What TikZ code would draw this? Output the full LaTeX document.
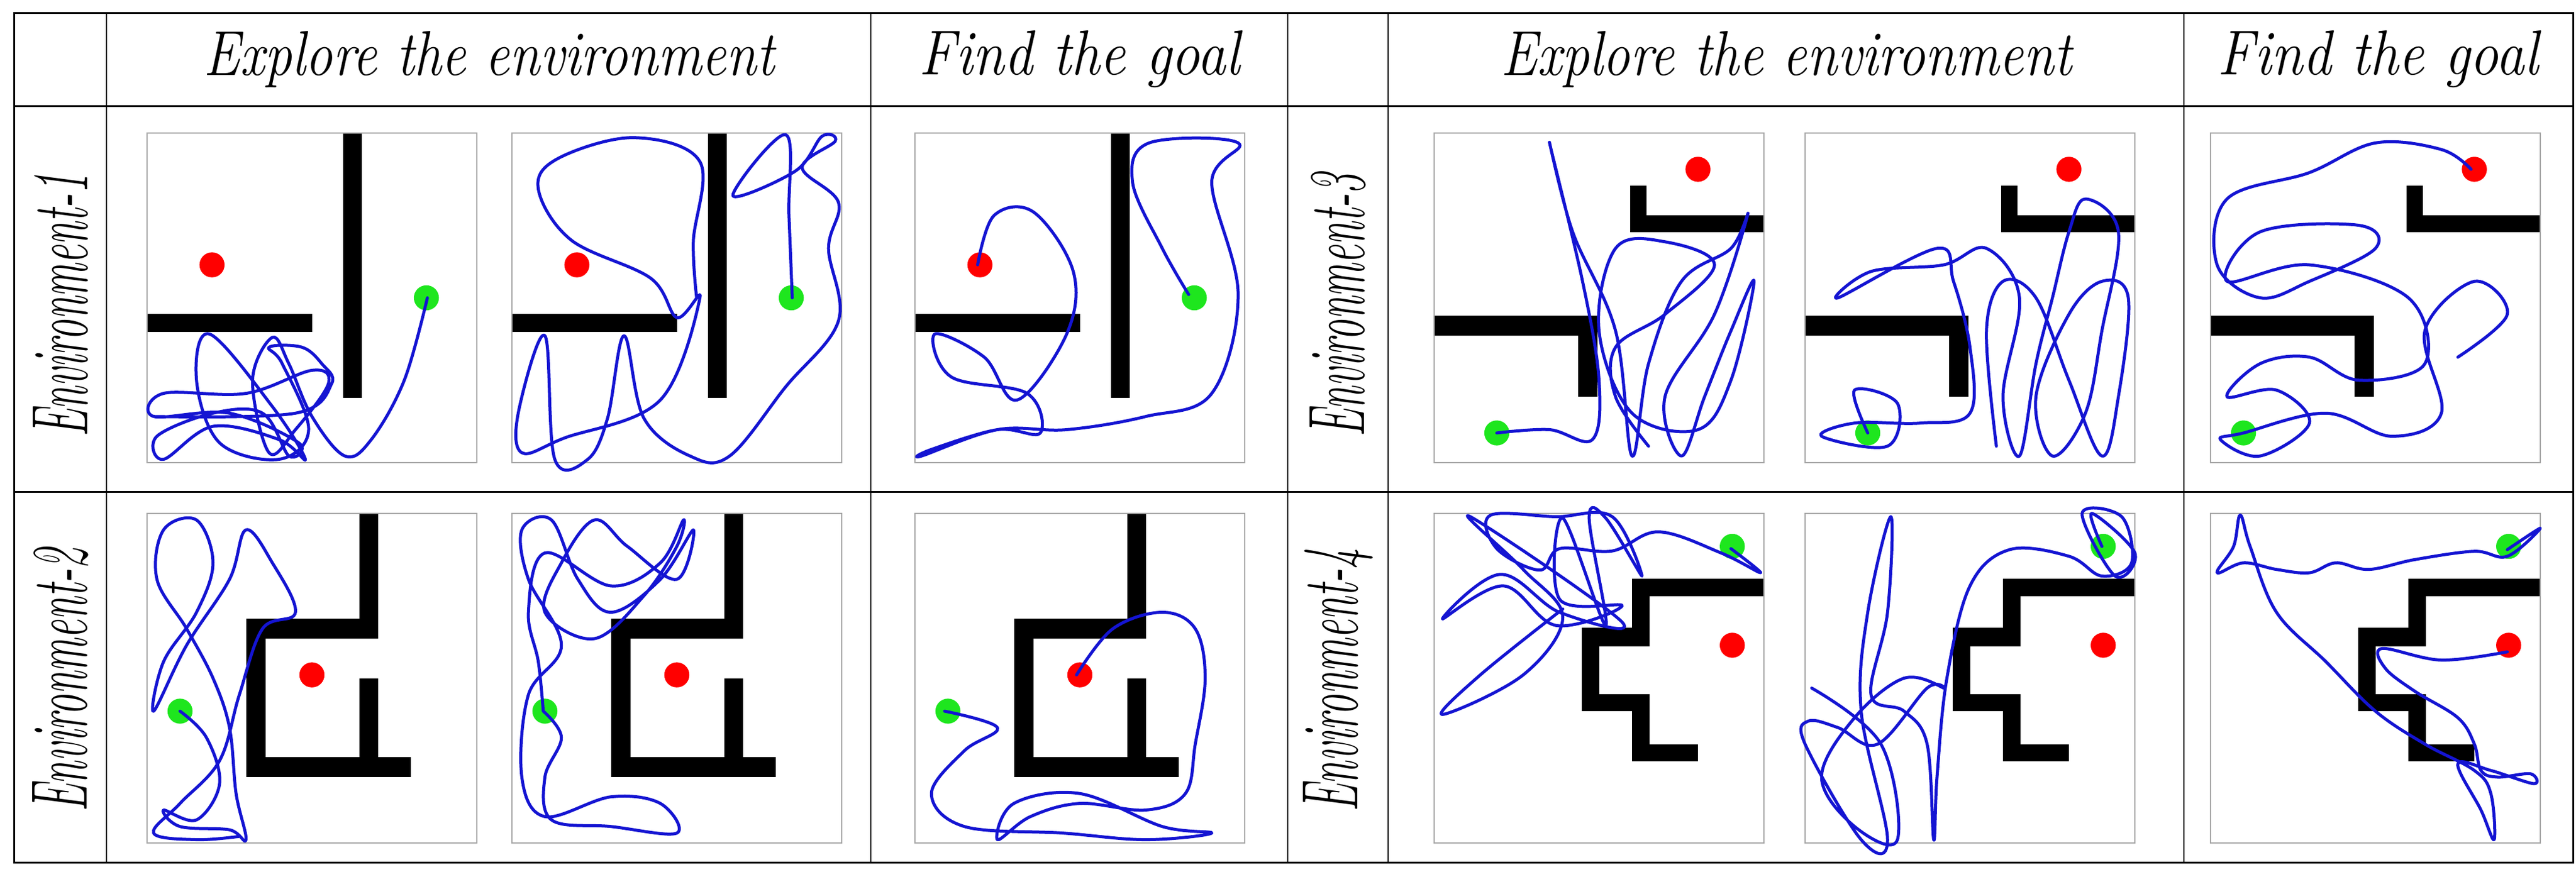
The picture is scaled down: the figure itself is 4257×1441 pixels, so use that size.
\documentclass[tikz,border=0pt]{standalone}
\usepackage{graphicx}
\begin{document}
\begin{tikzpicture}[x=1pt,y=-1pt,
  grid/.style={line width=3pt,black},
  frame/.style={draw=gray!70,line width=1.5pt},
  wall/.style={fill=black},
  traj/.style={draw={rgb,255:red,20;green,20;blue,210},line width=5pt,line join=round,line cap=round},
  goal/.style={fill=red},
  start/.style={fill={rgb,255:red,30;green,230;blue,30}},
  hdr/.style={font=\fontsize{105}{115}\selectfont\itshape},
  lbl/.style={font=\fontsize{132}{140}\selectfont\itshape,rotate=90}]
\useasboundingbox (0,0) rectangle (4257,1441);
\fill[white] (0,0) rectangle (4257,1441);
% grid
\draw[grid] (23,21) rectangle (4252,1426);
\draw[grid] (23,175) -- (4252,175);
\draw[grid] (23,813) -- (4252,813);
\foreach \xx in {176,1439,2128,2294,3609} \draw[line width=2pt] (\xx,21) -- (\xx,1426);
% headers
\node[hdr] (h1) at (808,98) {\scalebox{0.86}[1]{Explore the environment}};
\node[hdr] (h2) at (1784,98) {\scalebox{0.9}[1]{Find the goal}};
\node[hdr] (h3) at (2952,98) {\scalebox{0.86}[1]{Explore the environment}};
\node[hdr] (h4) at (3930,98) {\scalebox{0.9}[1]{Find the goal}};
\node[lbl] (l1) at (100,505) {\scalebox{0.52}[1]{Environment-1}};
\node[lbl] (l2) at (100,1125) {\scalebox{0.52}[1]{Environment-2}};
\node[lbl] (l3) at (2211,505) {\scalebox{0.52}[1]{Environment-3}};
\node[lbl] (l4) at (2211,1125) {\scalebox{0.52}[1]{Environment-4}};
% wall macros
\newcommand{\WallsOne}{\fill[wall] (0.595,0) rectangle (0.651,0.803);
  \fill[wall] (0,0.548) rectangle (0.50,0.603);
  \fill[goal] (0.197,0.40) circle[radius=0.038];
  \fill[start] (0.847,0.50) circle[radius=0.038];
  \draw[frame] (0,0) rectangle (1,1);}
\newcommand{\WallsTwo}{\fill[wall] (0.644,0) rectangle (0.70,0.38);
  \fill[wall] (0.30,0.32) rectangle (0.70,0.38);
  \fill[wall] (0.30,0.32) rectangle (0.36,0.80);
  \fill[wall] (0.30,0.74) rectangle (0.80,0.80);
  \fill[wall] (0.644,0.50) rectangle (0.70,0.80);
  \fill[goal] (0.50,0.49) circle[radius=0.038];
  \fill[start] (0.10,0.60) circle[radius=0.038];
  \draw[frame] (0,0) rectangle (1,1);}
\newcommand{\WallsThree}{\fill[wall] (0.594,0.16) rectangle (0.644,0.30);
  \fill[wall] (0.594,0.25) rectangle (1,0.30);
  \fill[wall] (0,0.555) rectangle (0.495,0.615);
  \fill[wall] (0.436,0.555) rectangle (0.495,0.80);
  \fill[goal] (0.80,0.11) circle[radius=0.038];
  \draw[frame] (0,0) rectangle (1,1);}
\newcommand{\WallsFour}{\fill[wall] (0.60,0.198) rectangle (1,0.252);
  \fill[wall] (0.60,0.198) rectangle (0.653,0.403);
  \fill[wall] (0.448,0.346) rectangle (0.653,0.403);
  \fill[wall] (0.448,0.346) rectangle (0.50,0.60);
  \fill[wall] (0.448,0.548) rectangle (0.653,0.60);
  \fill[wall] (0.60,0.548) rectangle (0.653,0.752);
  \fill[wall] (0.60,0.70) rectangle (0.80,0.752);
  \fill[goal] (0.904,0.40) circle[radius=0.038];
  \fill[start] (0.904,0.10) circle[radius=0.038];
  \draw[frame] (0,0) rectangle (1,1);}
% ---------- Env 1
\begin{scope}[shift={(243,220)},x=545pt,y=-545pt]
\WallsOne
\draw[traj] plot[smooth,tension=0.6] coordinates {(0.85,0.5) (0.78,0.75) (0.68,0.93) (0.6,0.98) (0.5,0.86) (0.43,0.70) (0.38,0.62) (0.32,0.75) (0.37,0.97) (0.45,0.90) (0.55,0.76) (0.5,0.72) (0.3,0.79) (0.05,0.79) (0.02,0.86) (0.25,0.85) (0.46,0.94) (0.43,0.98) (0.35,0.85) (0.2,0.85) (0.03,0.92) (0.05,0.99) (0.2,0.89) (0.4,0.93) (0.48,0.99) (0.38,0.83) (0.19,0.61) (0.15,0.75) (0.22,0.94) (0.4,0.99) (0.49,0.90) (0.41,0.70) (0.37,0.65) (0.47,0.65) (0.53,0.7) (0.56,0.76) (0.45,0.85) (0.02,0.86)};
\end{scope}
\begin{scope}[shift={(846,220)},x=545pt,y=-545pt]
\WallsOne
\draw[traj] plot[smooth,tension=0.6] coordinates {(0.85,0.5) (0.84,0.25) (0.83,0.005) (0.67,0.19) (0.86,0.115) (0.94,0.01) (0.98,0.025) (0.88,0.105) (0.99,0.21) (0.96,0.35) (0.99,0.57) (0.83,0.77) (0.66,0.98) (0.54,0.98) (0.40,0.865) (0.34,0.615) (0.29,0.865) (0.23,0.99) (0.13,0.99) (0.10,0.615) (0.02,0.845) (0.03,0.97) (0.16,0.925) (0.45,0.81) (0.57,0.50) (0.50,0.56) (0.42,0.44) (0.18,0.325) (0.08,0.17) (0.14,0.077) (0.37,0.014) (0.57,0.087) (0.55,0.33) (0.56,0.5)};
\end{scope}
\begin{scope}[shift={(1512,220)},x=545pt,y=-545pt]
\WallsOne
\draw[traj] plot[smooth,tension=0.6] coordinates {(0.19,0.40) (0.24,0.25) (0.36,0.24) (0.48,0.42) (0.46,0.61) (0.31,0.81) (0.21,0.68) (0.06,0.61) (0.11,0.74) (0.34,0.79) (0.38,0.91) (0.25,0.90) (0.05,0.96) (0.02,0.98) (0.25,0.90) (0.46,0.90) (0.70,0.86) (0.90,0.79) (0.98,0.49) (0.90,0.15) (0.98,0.03) (0.71,0.03) (0.66,0.15) (0.75,0.35) (0.83,0.49)};
\end{scope}
% ---------- Env 2
\begin{scope}[shift={(243,849)},x=545pt,y=-545pt]
\WallsTwo
\draw[traj] plot[smooth,tension=0.6] coordinates {(0.10,0.60) (0.18,0.68) (0.22,0.82) (0.15,0.93) (0.05,0.90) (0.10,0.95) (0.25,0.96) (0.30,0.99) (0.27,0.85) (0.25,0.65) (0.20,0.50) (0.12,0.35) (0.03,0.20) (0.05,0.05) (0.15,0.02) (0.20,0.15) (0.15,0.30) (0.05,0.45) (0.02,0.60) (0.12,0.40) (0.25,0.20) (0.30,0.05) (0.38,0.15) (0.45,0.30) (0.35,0.35) (0.28,0.55) (0.22,0.75) (0.10,0.88) (0.02,0.97) (0.15,0.99) (0.28,0.98)};
\end{scope}
\begin{scope}[shift={(846,849)},x=545pt,y=-545pt]
\WallsTwo
\draw[traj] plot[smooth,tension=0.6] coordinates {(0.095,0.6) (0.15,0.68) (0.1,0.8) (0.12,0.93) (0.3,0.95) (0.5,0.97) (0.45,0.88) (0.3,0.86) (0.1,0.92) (0.03,0.8) (0.05,0.55) (0.15,0.4) (0.05,0.2) (0.03,0.05) (0.12,0.02) (0.2,0.2) (0.3,0.3) (0.45,0.2) (0.55,0.05) (0.5,0.2) (0.35,0.1) (0.25,0.02) (0.15,0.15) (0.1,0.3) (0.25,0.38) (0.4,0.25) (0.5,0.1) (0.52,0.02) (0.45,0.15) (0.3,0.22) (0.1,0.12) (0.05,0.3) (0.08,0.45) (0.095,0.6)};
\end{scope}
\begin{scope}[shift={(1512,849)},x=545pt,y=-545pt]
\WallsTwo
\draw[traj] plot[smooth,tension=0.6] coordinates {(0.49,0.49) (0.6,0.35) (0.75,0.30) (0.85,0.35) (0.88,0.5) (0.85,0.7) (0.82,0.85) (0.7,0.9) (0.5,0.88) (0.35,0.92) (0.25,0.99) (0.3,0.88) (0.5,0.85) (0.75,0.95) (0.9,0.97) (0.7,0.99) (0.45,0.97) (0.15,0.95) (0.05,0.85) (0.15,0.72) (0.25,0.65) (0.09,0.60)};
\end{scope}
% ---------- Env 3
\begin{scope}[shift={(2370,220)},x=545pt,y=-545pt]
\WallsThree
\fill[start] (0.19,0.91) circle[radius=0.038];
\draw[traj] plot[smooth,tension=0.6] coordinates {(0.19,0.91) (0.35,0.9) (0.48,0.93) (0.5,0.75) (0.45,0.45) (0.35,0.03) (0.42,0.3) (0.55,0.6) (0.6,0.98) (0.65,0.7) (0.75,0.45) (0.9,0.35) (0.95,0.25) (0.85,0.55) (0.7,0.8) (0.75,0.98) (0.82,0.8) (0.9,0.6) (0.97,0.45) (0.9,0.75) (0.8,0.9) (0.6,0.85) (0.5,0.6) (0.55,0.35) (0.7,0.33) (0.85,0.4) (0.7,0.55) (0.55,0.65) (0.55,0.8) (0.65,0.95)};
\end{scope}
\begin{scope}[shift={(2983,220)},x=545pt,y=-545pt]
\WallsThree
\fill[start] (0.19,0.91) circle[radius=0.038];
\draw[traj] plot[smooth,tension=0.6] coordinates {(0.19,0.91) (0.15,0.78) (0.28,0.82) (0.25,0.95) (0.05,0.92) (0.15,0.88) (0.35,0.88) (0.5,0.85) (0.5,0.65) (0.45,0.45) (0.4,0.35) (0.1,0.5) (0.2,0.42) (0.42,0.4) (0.55,0.35) (0.65,0.5) (0.6,0.8) (0.65,0.98) (0.7,0.7) (0.75,0.5) (0.8,0.3) (0.85,0.2) (0.95,0.3) (0.9,0.6) (0.85,0.85) (0.75,0.98) (0.7,0.8) (0.8,0.55) (0.9,0.45) (0.98,0.5) (0.95,0.8) (0.9,0.98) (0.8,0.75) (0.7,0.5) (0.6,0.45) (0.55,0.6) (0.58,0.95)};
\end{scope}
\begin{scope}[shift={(3653,220)},x=545pt,y=-545pt]
\WallsThree
\fill[start] (0.10,0.91) circle[radius=0.038];
\draw[traj] plot[smooth,tension=0.6] coordinates {(0.79,0.11) (0.7,0.05) (0.5,0.03) (0.3,0.12) (0.05,0.2) (0.02,0.4) (0.15,0.5) (0.3,0.45) (0.5,0.35) (0.45,0.28) (0.15,0.3) (0.05,0.45) (0.3,0.4) (0.6,0.5) (0.65,0.7) (0.45,0.75) (0.3,0.68) (0.15,0.7) (0.05,0.8) (0.2,0.78) (0.3,0.88) (0.15,0.98) (0.03,0.93) (0.1,0.91) (0.35,0.85) (0.55,0.92) (0.7,0.85) (0.65,0.6) (0.8,0.45) (0.9,0.55) (0.75,0.68)};
\end{scope}
% ---------- Env 4
\begin{scope}[shift={(2370,849)},x=545pt,y=-545pt]
\WallsFour
\draw[traj] plot[smooth,tension=0.6] coordinates {(0.90,0.107) (0.99,0.18) (0.87,0.12) (0.68,0.056) (0.54,0.114) (0.38,0.107) (0.32,0.172) (0.19,0.107) (0.17,0.006) (0.37,0.01) (0.54,0.01) (0.63,0.19) (0.52,0.014) (0.47,0.014) (0.52,0.34) (0.39,0.014) (0.38,0.26) (0.57,0.28) (0.37,0.34) (0.21,0.22) (0.025,0.32) (0.20,0.185) (0.38,0.30) (0.57,0.33) (0.11,0.01) (0.27,0.17) (0.39,0.315) (0.27,0.49) (0.025,0.61) (0.14,0.49) (0.39,0.29)};
\end{scope}
\begin{scope}[shift={(2983,849)},x=545pt,y=-545pt]
\WallsFour
\draw[traj] plot[smooth,tension=0.6] coordinates {(0.90,0.1) (0.87,0.0) (1.0,0.12) (0.94,0.19) (0.84,0.0) (0.96,0.01) (0.99,0.15) (0.90,0.19) (0.80,0.13) (0.62,0.11) (0.50,0.22) (0.43,0.50) (0.40,0.80) (0.39,0.99) (0.37,0.70) (0.30,0.60) (0.20,0.55) (0.25,0.30) (0.26,0.01) (0.19,0.30) (0.17,0.60) (0.25,0.99) (0.17,0.99) (0.0,0.70) (0.01,0.63) (0.10,0.65) (0.22,0.70) (0.37,0.53) (0.42,0.53) (0.30,0.50) (0.15,0.62) (0.05,0.80) (0.15,0.95) (0.28,0.99) (0.23,0.70) (0.02,0.53)};
\end{scope}
\begin{scope}[shift={(3653,849)},x=545pt,y=-545pt]
\WallsFour
\draw[traj] plot[smooth,tension=0.6] coordinates {(0.90,0.42) (0.70,0.445) (0.52,0.41) (0.53,0.47) (0.62,0.54) (0.75,0.62) (0.80,0.70) (0.82,0.78) (0.87,0.80) (0.97,0.79) (0.98,0.82) (0.85,0.78) (0.75,0.76) (0.82,0.9) (0.86,0.99) (0.85,0.85) (0.80,0.78) (0.65,0.7) (0.50,0.6) (0.35,0.45) (0.2,0.3) (0.12,0.1) (0.09,0.005) (0.07,0.10) (0.02,0.18) (0.1,0.15) (0.2,0.17) (0.3,0.18) (0.38,0.15) (0.48,0.17) (0.62,0.14) (0.80,0.115) (0.90,0.13) (1.0,0.045) (0.90,0.11)};
\end{scope}
\end{tikzpicture}
\end{document}
